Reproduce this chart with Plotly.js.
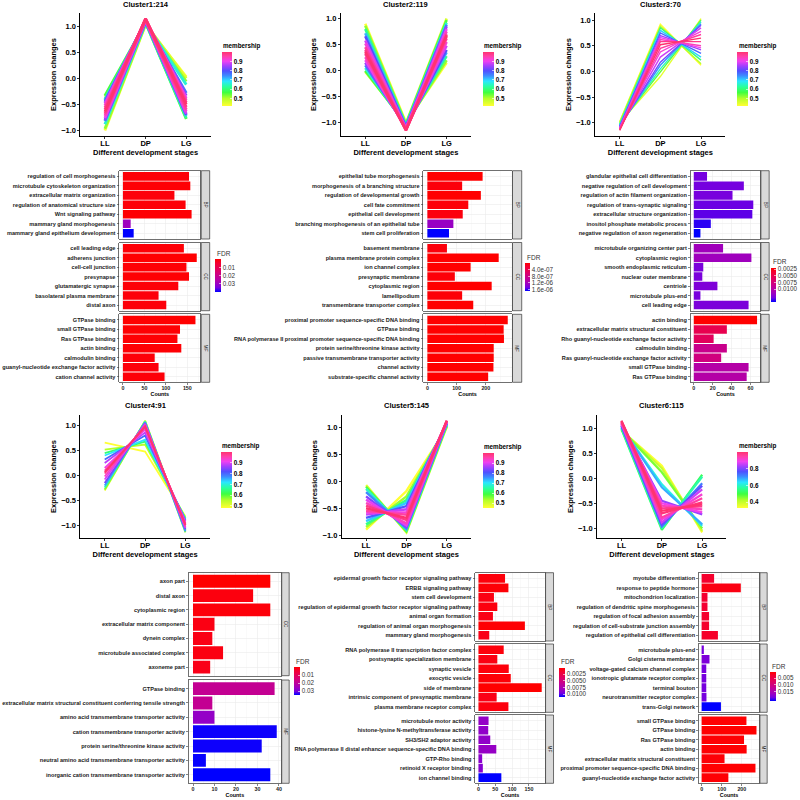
<!DOCTYPE html>
<html><head><meta charset="utf-8">
<script src="https://cdn.plot.ly/plotly-3.0.1.min.js"></script>
<style>html,body{margin:0;padding:0;background:#fff}#chart{width:800px;height:800px}</style>
</head><body><div id="chart"></div>
<script>
// ---------------- DATA ----------------
const stages = ['LL','DP','LG'];

// Cluster 1 (214 genes) - representative profiles
const c1_mem = [0.42,0.46,0.52,0.56,0.62,0.66,0.72,0.76,0.80,0.84,0.88,0.90,0.92,0.94,0.96,0.97,0.98,1.00];
const c1_LL  = [-1.00,-0.35,-0.97,-0.33,-0.40,-0.88,-0.42,-0.82,-0.45,-0.80,-0.48,-0.76,-0.52,-0.72,-0.56,-0.68,-0.60,-0.64];
const c1_DP  = [1.03,1.05,1.04,1.07,1.08,1.06,1.09,1.08,1.10,1.10,1.11,1.12,1.12,1.13,1.13,1.14,1.14,1.15];
const c1_LG  = [0.03,0.00,-0.06,-0.78,-0.76,-0.12,-0.72,-0.28,-0.70,-0.33,-0.68,-0.38,-0.64,-0.42,-0.60,-0.46,-0.55,-0.50];

// Cluster 2 (119 genes)
const c2_mem = [0.42,0.46,0.52,0.56,0.62,0.66,0.72,0.76,0.80,0.84,0.88,0.90,0.92,0.94,0.96,0.97,0.98,1.00];
const c2_LL  = [0.90,-0.02,0.86,0.00,0.80,0.05,0.72,0.10,0.66,0.15,0.58,0.20,0.52,0.26,0.45,0.32,0.40,0.36];
const c2_DP  = [-1.00,-1.01,-1.02,-1.03,-1.04,-1.05,-1.06,-1.07,-1.08,-1.09,-1.10,-1.11,-1.12,-1.12,-1.13,-1.14,-1.14,-1.15];
const c2_LG  = [0.15,1.00,0.20,0.97,0.28,0.92,0.35,0.88,0.40,0.85,0.48,0.80,0.55,0.75,0.62,0.70,0.66,0.68];

// Cluster 3 (70 genes)
const c3_mem = [0.42,0.45,0.50,0.55,0.60,0.65,0.70,0.74,0.78,0.82,0.85,0.88,0.90,0.92,0.94,0.96,0.98,1.00];
const c3_LL  = [-0.98,-1.00,-0.99,-1.02,-1.03,-1.04,-1.05,-1.06,-1.07,-1.08,-1.09,-1.10,-1.11,-1.12,-1.12,-1.13,-1.14,-1.15];
const c3_DP  = [0.92,-0.10,0.88,-0.02,0.85,0.05,0.80,0.12,0.75,0.18,0.70,0.28,0.66,0.38,0.62,0.45,0.58,0.52];
const c3_LG  = [0.12,1.03,0.15,1.00,0.22,0.97,0.28,0.93,0.35,0.90,0.42,0.85,0.46,0.78,0.50,0.72,0.58,0.65];

// Cluster 4 (91 genes)
const c4_mem = [0.48,0.50,0.55,0.58,0.64,0.68,0.72,0.76,0.80,0.84,0.88,0.90,0.92,0.94,0.96,0.98,1.00];
const c4_LL  = [0.66,-0.30,0.52,-0.28,0.45,-0.24,0.40,-0.20,0.32,-0.15,0.25,-0.08,0.15,-0.02,0.10,0.04,0.07];
const c4_DP  = [0.48,1.10,0.62,1.09,0.68,1.08,0.72,1.06,0.80,1.05,0.86,1.03,0.92,1.01,0.96,0.99,0.98];
const c4_LG  = [-0.82,-1.10,-0.85,-1.14,-0.86,-1.10,-0.88,-1.12,-0.90,-1.08,-0.92,-1.05,-0.95,-1.03,-0.97,-1.00,-0.99];

// Cluster 5 (145 genes)
const c5_mem = [0.45,0.48,0.54,0.58,0.63,0.67,0.72,0.76,0.80,0.84,0.88,0.90,0.92,0.94,0.96,0.98,1.00];
const c5_LL  = [-0.90,-0.07,-0.85,-0.10,-0.80,-0.14,-0.74,-0.20,-0.68,-0.28,-0.62,-0.34,-0.58,-0.40,-0.55,-0.45,-0.50];
const c5_DP  = [-0.18,-0.95,-0.28,-0.93,-0.35,-0.90,-0.40,-0.88,-0.46,-0.85,-0.52,-0.82,-0.58,-0.78,-0.62,-0.72,-0.68];
const c5_LG  = [1.00,1.02,1.02,1.04,1.04,1.06,1.06,1.08,1.08,1.09,1.10,1.11,1.11,1.12,1.12,1.13,1.13];

// Cluster 6 (115 genes)
const c6_mem = [0.33,0.40,0.46,0.52,0.58,0.62,0.68,0.72,0.78,0.82,0.86,0.89,0.91,0.93,0.95,0.97,0.99,1.00];
const c6_LL  = [0.95,0.96,0.97,0.98,1.00,1.01,1.02,1.04,1.05,1.07,1.08,1.09,1.10,1.11,1.12,1.13,1.14,1.15];
const c6_DP  = [0.25,0.20,0.12,-1.03,-1.00,-0.12,-0.18,-0.96,-0.92,-0.45,-0.88,-0.50,-0.82,-0.55,-0.78,-0.60,-0.70,-0.65];
const c6_LG  = [-1.08,-1.05,-1.00,0.07,0.03,-0.95,-0.92,-0.10,-0.15,-0.72,-0.22,-0.68,-0.32,-0.62,-0.40,-0.56,-0.48,-0.52];

// GO enrichment: Cluster 1
const c1_bp_terms = ['regulation of cell morphogenesis','microtubule cytoskeleton organization','extracellular matrix organization','regulation of anatomical structure size','Wnt signaling pathway','mammary gland morphogenesis','mammary gland epithelium development'];
const c1_bp_counts = [154,157,120,146,160,18,25];
const c1_bp_fdr = [0.0008,0.0006,0.0012,0.0009,0.0005,0.030,0.041];
const c1_cc_terms = ['cell leading edge','adherens junction','cell-cell junction','presynapse','glutamatergic synapse','basolateral plasma membrane','distal axon'];
const c1_cc_counts = [142,172,148,154,129,83,101];
const c1_cc_fdr = [0.0007,0.0002,0.0006,0.0005,0.0009,0.0012,0.0011];
const c1_mf_terms = ['GTPase binding','small GTPase binding','Ras GTPase binding','actin binding','calmodulin binding','guanyl-nucleotide exchange factor activity','cation channel activity'];
const c1_mf_counts = [169,133,127,136,74,83,97];
const c1_mf_fdr = [0.0001,0.0004,0.0005,0.0006,0.0010,0.0011,0.0009];

// Cluster 2
const c2_bp_terms = ['epithelial tube morphogenesis','morphogenesis of a branching structure','regulation of developmental growth','cell fate commitment','epithelial cell development','branching morphogenesis of an epithelial tube','stem cell proliferation'];
const c2_bp_counts = [189,119,183,140,121,89,74];
const c2_bp_fdr = [1e-9,5e-8,2e-9,4e-8,6e-8,1.3e-6,1.72e-6];
const c2_cc_terms = ['basement membrane','plasma membrane protein complex','ion channel complex','presynaptic membrane','cytoplasmic region','lamellipodium','transmembrane transporter complex'];
const c2_cc_counts = [67,244,148,94,220,119,157];
const c2_cc_fdr = [5e-8,1e-10,2e-9,4e-8,1e-10,3e-8,2e-9];
const c2_mf_terms = ['proximal promoter sequence-specific DNA binding','GTPase binding','RNA polymerase II proximal promoter sequence-specific DNA binding','protein serine/threonine kinase activity','passive transmembrane transporter activity','channel activity','substrate-specific channel activity'];
const c2_mf_counts = [275,261,262,227,227,226,208];
const c2_mf_fdr = [1e-12,1e-12,1e-12,1e-11,1e-11,1e-11,1e-11];

// Cluster 3
const c3_bp_terms = ['glandular epithelial cell differentiation','negative regulation of cell development','regulation of actin filament organization','regulation of trans-synaptic signaling','extracellular structure organization','inositol phosphate metabolic process','negative regulation of axon regeneration'];
const c3_bp_counts = [14,53,41,63,62,18,7];
const c3_bp_fdr = [0.0131,0.0131,0.0130,0.0133,0.0135,0.0142,0.0148];
const c3_cc_terms = ['microtubule organizing center part','cytoplasmic region','smooth endoplasmic reticulum','nuclear outer membrane','centriole','microtubule plus-end','cell leading edge'];
const c3_cc_counts = [31,61,10,9,25,7,58];
const c3_cc_fdr = [0.0112,0.0113,0.0129,0.0129,0.0127,0.0130,0.0128];
const c3_mf_terms = ['actin binding','extracellular matrix structural constituent','Rho guanyl-nucleotide exchange factor activity','calmodulin binding','Ras guanyl-nucleotide exchange factor activity','small GTPase binding','Ras GTPase binding'];
const c3_mf_counts = [67,35,21,35,29,58,56];
const c3_mf_fdr = [0.0019,0.0051,0.0058,0.0084,0.0077,0.0100,0.0100];

// Cluster 4
const c4_cc_terms = ['axon part','distal axon','cytoplasmic region','extracellular matrix component','dynein complex','microtubule associated complex','axoneme part'];
const c4_cc_counts = [36,28,36,10,9,14,8];
const c4_cc_fdr = [0.0003,0.0015,0.0012,0.0020,0.0022,0.0018,0.0024];
const c4_mf_terms = ['GTPase binding','extracellular matrix structural constituent conferring tensile strength','amino acid transmembrane transporter activity','cation transmembrane transporter activity','protein serine/threonine kinase activity','neutral amino acid transmembrane transporter activity','inorganic cation transmembrane transporter activity'];
const c4_mf_counts = [38,9,10,39,32,6,36];
const c4_mf_fdr = [0.019,0.019,0.027,0.0345,0.0345,0.0348,0.035];

// Cluster 5
const c5_bp_terms = ['epidermal growth factor receptor signaling pathway','ERBB signaling pathway','stem cell development','regulation of epidermal growth factor receptor signaling pathway','animal organ formation','regulation of animal organ morphogenesis','mammary gland morphogenesis'];
const c5_bp_counts = [79,89,46,56,43,138,32];
const c5_bp_fdr = [0.0004,0.0003,0.0006,0.0005,0.0007,0.0002,0.0008];
const c5_cc_terms = ['RNA polymerase II transcription factor complex','postsynaptic specialization membrane','synaptic vesicle','exocytic vesicle','side of membrane','intrinsic component of presynaptic membrane','plasma membrane receptor complex'];
const c5_cc_counts = [75,56,90,96,188,54,89];
const c5_cc_fdr = [0.0004,0.0006,0.0004,0.0003,0.0001,0.0007,0.0005];
const c5_mf_terms = ['microtubule motor activity','histone-lysine N-methyltransferase activity','SH3/SH2 adaptor activity','RNA polymerase II distal enhancer sequence-specific DNA binding','GTP-Rho binding','retinoid X receptor binding','ion channel binding'];
const c5_mf_counts = [30,29,35,53,11,13,68];
const c5_mf_fdr = [0.0085,0.0086,0.0086,0.0084,0.0088,0.0090,0.0110];

// Cluster 6
const c6_bp_terms = ['myotube differentiation','response to peptide hormone','mitochondrion localization','regulation of dendritic spine morphogenesis','regulation of focal adhesion assembly','regulation of cell-substrate junction assembly','regulation of epithelial cell differentiation'];
const c6_bp_counts = [62,195,29,29,37,37,81];
const c6_bp_fdr = [0.0030,0.0015,0.0032,0.0033,0.0030,0.0030,0.0028];
const c6_cc_terms = ['microtubule plus-end','Golgi cisterna membrane','voltage-gated calcium channel complex','ionotropic glutamate receptor complex','terminal bouton','neurotransmitter receptor complex','trans-Golgi network'];
const c6_cc_counts = [11,39,23,23,23,24,96];
const c6_cc_fdr = [0.0195,0.0190,0.0195,0.0195,0.0195,0.0195,0.0225];
const c6_mf_terms = ['small GTPase binding','GTPase binding','Ras GTPase binding','actin binding','extracellular matrix structural constituent','proximal promoter sequence-specific DNA binding','guanyl-nucleotide exchange factor activity'];
const c6_mf_counts = [223,273,211,224,114,268,133];
const c6_mf_fdr = [0.0006,0.0005,0.0007,0.0007,0.0009,0.0006,0.0008];

// ---------------- STYLE / HELPERS ----------------
const W = 800, H = 800;
const FONT = 'Liberation Sans, Arial, sans-serif';
const memScale = [[0,'#FFFF33'],[0.14,'#B4FF2A'],[0.25,'#40FF40'],[0.36,'#2AFFA0'],[0.46,'#2AE6FF'],[0.56,'#3C8CFF'],[0.65,'#5050FF'],[0.74,'#A040FF'],[0.83,'#F040F0'],[0.92,'#FF40A8'],[1,'#FF3370']];
// colour value is -FDR so that small FDR (red) sits at the top of the bar
const fdrScale = [[0,'#0000FF'],[0.125,'#7300E1'],[0.25,'#9A00C2'],[0.375,'#B500A5'],[0.5,'#C9008A'],[0.625,'#DA006C'],[0.75,'#E8004F'],[0.875,'#F40031'],[1,'#FF0000']];

function hex2rgb(h){return [parseInt(h.substr(1,2),16),parseInt(h.substr(3,2),16),parseInt(h.substr(5,2),16)];}
function scaleColor(scale,t){
  t=Math.max(0,Math.min(1,t));
  for(let i=1;i<scale.length;i++){
    if(t<=scale[i][0]){
      const a=scale[i-1],b=scale[i],f=(t-a[0])/(b[0]-a[0]);
      const ca=hex2rgb(a[1]),cb=hex2rgb(b[1]);
      return 'rgb('+ca.map((v,k)=>Math.round(v+(cb[k]-v)*f)).join(',')+')';
    }
  }
  return scale[scale.length-1][1];
}

const traces = [];
const layout = {
  width:W,height:H,margin:{l:0,r:0,t:0,b:0},paper_bgcolor:'white',plot_bgcolor:'white',
  showlegend:false,bargap:0.1,font:{family:FONT,color:'#000'},annotations:[],shapes:[]
};
let axN = 0;
function newAxes(){axN++;const s=axN===1?'':String(axN);return {xa:'xaxis'+s,ya:'yaxis'+s,xr:'x'+s,yr:'y'+s};}
let caN = 0;
function newCA(){caN++;return caN===1?'coloraxis':'coloraxis'+caN;}

function colorbar(box,tickvals,ticktext,font){
  return {x:box[0]/W,xanchor:'left',xpad:0,y:1-box[2]/H,yanchor:'top',ypad:0,
    len:box[3]-box[2],lenmode:'pixels',thickness:box[1]-box[0],thicknessmode:'pixels',
    outlinewidth:0,tickvals:tickvals,ticktext:ticktext,tickfont:font,
    ticks:'inside',ticklen:2,tickcolor:'white',tickwidth:0.6,tickmode:'array'};
}
function note(text,x,y,opt){
  layout.annotations.push(Object.assign({text:text,x:x/W,y:1-y/H,xref:'paper',yref:'paper',showarrow:false,
    xanchor:'center',yanchor:'middle',font:{family:FONT,size:7.5,color:'#000',weight:'bold'}},opt||{}));
}

function addLineChart(c){
  const a=newAxes(), ca=newCA();
  const all=[...c.LL,...c.DP,...c.LG];
  const lo=Math.min(...all),hi=Math.max(...all),pad=(hi-lo)*0.05;
  const mlo=Math.min(...c.mem),mhi=Math.max(...c.mem);
  const order=c.mem.map((m,i)=>i).sort((i,j)=>c.mem[i]-c.mem[j]);
  order.forEach(i=>{
    traces.push({type:'scatter',mode:'lines',x:stages,y:[c.LL[i],c.DP[i],c.LG[i]],xaxis:a.xr,yaxis:a.yr,
      line:{color:scaleColor(memScale,(c.mem[i]-mlo)/(mhi-mlo)),width:c.lw},hoverinfo:'skip'});
  });
  traces.push({type:'scatter',mode:'markers',x:c.mem.map(()=>'DP'),y:c.DP,xaxis:a.xr,yaxis:a.yr,
    marker:{color:c.mem,coloraxis:ca,opacity:0,size:1},hoverinfo:'skip'});
  layout[ca]={colorscale:memScale,cmin:mlo,cmax:mhi,
    colorbar:colorbar(c.cb,c.cbTicks,c.cbTicks.map(v=>v.toFixed(1)),{family:FONT,size:6.3,weight:'bold',color:'#000'})};
  note('membership',c.cb[0]-0.5,c.cb[2]-6,{xanchor:'left',font:{family:FONT,size:6.3,weight:'bold',color:'#000'}});
  const b=c.box;
  layout[a.xa]={domain:[b[0]/W,b[1]/W],anchor:a.yr,type:'category',categoryorder:'array',categoryarray:stages,
    range:[-0.6,2.6],showline:true,linecolor:'#000',linewidth:1,ticks:'outside',ticklen:2,tickcolor:'#000',tickwidth:0.8,
    ticklabelstandoff:-2,
    showgrid:false,zeroline:false,tickfont:{family:FONT,size:7.5,weight:'bold',color:'#000'},
    title:{text:'Different development stages',font:{family:FONT,size:7.5,weight:'bold',color:'#000'},standoff:1}};
  layout[a.ya]={domain:[1-b[3]/H,1-b[2]/H],anchor:a.xr,range:[lo-pad,hi+pad],dtick:0.5,tick0:0,tickformat:'.1f',
    showline:true,linecolor:'#000',linewidth:1,ticks:'outside',ticklen:2,tickcolor:'#000',tickwidth:0.8,
    showgrid:false,zeroline:false,tickfont:{family:FONT,size:7.5,weight:'bold',color:'#000'},
    title:{text:'Expression changes',font:{family:FONT,size:7.5,weight:'bold',color:'#000'},standoff:3}};
  note(c.title,(b[0]+b[1])/2,c.titleY);
}

function addBarCluster(c){
  const ca=newCA();
  const maxC=Math.max(...c.facets.map(f=>Math.max(...f.counts)));
  const xr=[-0.05*maxC,1.05*maxC];
  c.facets.forEach((f,k)=>{
    const a=newAxes(), bottom=(k===c.facets.length-1);
    traces.push({type:'bar',orientation:'h',x:f.counts,y:f.terms,xaxis:a.xr,yaxis:a.yr,
      marker:{color:f.fdr.map(v=>-v),coloraxis:ca,line:{width:0}},hoverinfo:'skip'});
    layout[a.xa]={domain:[c.x[0]/W,c.x[1]/W],anchor:a.yr,range:xr,dtick:c.dtick,tick0:0,
      showgrid:true,gridcolor:'#EBEBEB',gridwidth:0.6,minor:{dtick:c.dtick/2,showgrid:true,gridcolor:'#F3F3F3',gridwidth:0.4},
      zeroline:false,showline:true,mirror:true,linecolor:'#333',linewidth:0.7,
      ticks:bottom?'outside':'',ticklen:2,tickcolor:'#333',tickwidth:0.6,showticklabels:bottom,ticklabelstandoff:-1,
      tickfont:{family:FONT,size:5.3,weight:'bold',color:'#1A1A1A'},
      title:bottom?{text:'Counts',font:{family:FONT,size:5.4,weight:'bold',color:'#000'},standoff:0}:{text:''}};
    layout[a.ya]={domain:[1-f.y[1]/H,1-f.y[0]/H],anchor:a.xr,type:'category',categoryorder:'array',categoryarray:f.terms,
      range:[f.terms.length-0.4,-0.6],showgrid:true,gridcolor:'#EBEBEB',gridwidth:0.6,zeroline:false,
      showline:true,mirror:true,linecolor:'#333',linewidth:0.7,ticks:'outside',ticklen:2,tickcolor:'#333',tickwidth:0.6,
      tickfont:{family:FONT,size:5.6,weight:'bold',color:'#1A1A1A'}};
    layout.shapes.push({type:'rect',xref:'paper',yref:'paper',x0:c.strip[0]/W,x1:c.strip[1]/W,y0:1-f.y[1]/H,y1:1-f.y[0]/H,
      fillcolor:'#D9D9D9',line:{color:'#333',width:0.7},layer:'above'});
    note(f.label,(c.strip[0]+c.strip[1])/2,(f.y[0]+f.y[1])/2,{textangle:90,font:{family:FONT,size:4.6,color:'#1A1A1A'}});
  });
  layout[ca]={colorscale:fdrScale,
    colorbar:colorbar(c.cb,c.cbTicks.map(v=>-v),c.cbText,{family:FONT,size:6.3,color:'#333'})};
  note('FDR',c.cb[0]-0.5,c.cb[2]-6,{xanchor:'left',font:{family:FONT,size:6.5,color:'#333'}});
}

// ---------------- BUILD ----------------
addLineChart({title:'Cluster1:214',LL:c1_LL,DP:c1_DP,LG:c1_LG,mem:c1_mem,lw:2.8,box:[81,212,13,136],titleY:5,cb:[223,233,52,106],cbTicks:[0.5,0.6,0.7,0.8,0.9]});
addLineChart({title:'Cluster2:119',LL:c2_LL,DP:c2_DP,LG:c2_LG,mem:c2_mem,lw:2.6,box:[343,474,13,136],titleY:5,cb:[486,497,52,106],cbTicks:[0.5,0.6,0.7,0.8,0.9]});
addLineChart({title:'Cluster3:70',LL:c3_LL,DP:c3_DP,LG:c3_LG,mem:c3_mem,lw:1.4,box:[599,730,13,136],titleY:5,cb:[742,753,52,106],cbTicks:[0.5,0.6,0.7,0.8,0.9]});
addLineChart({title:'Cluster4:91',LL:c4_LL,DP:c4_DP,LG:c4_LG,mem:c4_mem,lw:1.8,box:[81,211,415,538],titleY:406,cb:[222,233,452,508],cbTicks:[0.5,0.6,0.7,0.8,0.9]});
addLineChart({title:'Cluster5:145',LL:c5_LL,DP:c5_DP,LG:c5_LG,mem:c5_mem,lw:2.4,box:[344,474,415,538],titleY:406,cb:[486,497,453,508],cbTicks:[0.5,0.6,0.7,0.8,0.9]});
addLineChart({title:'Cluster6:115',LL:c6_LL,DP:c6_DP,LG:c6_LG,mem:c6_mem,lw:2.2,box:[601,731,415,538],titleY:406,cb:[742,753,452,508],cbTicks:[0.4,0.6,0.8]});

const rowTop = {BP:[170.7,239],CC:[242.5,310.7],MF:[314.3,382.3]};
const rowBot = {BP:[572.7,641],CC:[644,712.3],MF:[715,783.3]};

addBarCluster({x:[120,201.7],strip:[202.5,211],dtick:50,cb:[216.7,222.5,259.3,292.7],cbTicks:[0.01,0.02,0.03],cbText:['0.01','0.02','0.03'],
  facets:[{label:'BP',terms:c1_bp_terms,counts:c1_bp_counts,fdr:c1_bp_fdr,y:rowTop.BP},
          {label:'CC',terms:c1_cc_terms,counts:c1_cc_counts,fdr:c1_cc_fdr,y:rowTop.CC},
          {label:'MF',terms:c1_mf_terms,counts:c1_mf_counts,fdr:c1_mf_fdr,y:rowTop.MF}]});
addBarCluster({x:[426,515],strip:[515.7,525],dtick:100,cb:[528.3,533.5,263.3,291.7],cbTicks:[4e-7,8e-7,1.2e-6,1.6e-6],cbText:['4.0e-07','8.0e-07','1.2e-06','1.6e-06'],
  facets:[{label:'BP',terms:c2_bp_terms,counts:c2_bp_counts,fdr:c2_bp_fdr,y:rowTop.BP},
          {label:'CC',terms:c2_cc_terms,counts:c2_cc_counts,fdr:c2_cc_fdr,y:rowTop.CC},
          {label:'MF',terms:c2_mf_terms,counts:c2_mf_counts,fdr:c2_mf_fdr,y:rowTop.MF}]});
addBarCluster({x:[695,765],strip:[765.7,774],dtick:20,cb:[776,781,267.7,301.7],cbTicks:[0.0025,0.005,0.0075,0.01],cbText:['0.0025','0.0050','0.0075','0.0100'],
  facets:[{label:'BP',terms:c3_bp_terms,counts:c3_bp_counts,fdr:c3_bp_fdr,y:rowTop.BP},
          {label:'CC',terms:c3_cc_terms,counts:c3_cc_counts,fdr:c3_cc_fdr,y:rowTop.CC},
          {label:'MF',terms:c3_mf_terms,counts:c3_mf_counts,fdr:c3_mf_fdr,y:rowTop.MF}]});
addBarCluster({x:[190,282.7],strip:[283.5,291],dtick:10,cb:[296,301.7,667.3,695.7],cbTicks:[0.01,0.02,0.03],cbText:['0.01','0.02','0.03'],
  facets:[{label:'CC',terms:c4_cc_terms,counts:c4_cc_counts,fdr:c4_cc_fdr,y:[572.7,675.7]},
          {label:'MF',terms:c4_mf_terms,counts:c4_mf_counts,fdr:c4_mf_fdr,y:[680,783.3]}]});
addBarCluster({x:[478.3,548.3],strip:[549,557],dtick:50,cb:[562.7,569,667.7,696.7],cbTicks:[0.0025,0.005,0.0075,0.01],cbText:['0.0025','0.0050','0.0075','0.0100'],
  facets:[{label:'BP',terms:c5_bp_terms,counts:c5_bp_counts,fdr:c5_bp_fdr,y:rowBot.BP},
          {label:'CC',terms:c5_cc_terms,counts:c5_cc_counts,fdr:c5_cc_fdr,y:rowBot.CC},
          {label:'MF',terms:c5_mf_terms,counts:c5_mf_counts,fdr:c5_mf_fdr,y:rowBot.MF}]});
addBarCluster({x:[703.3,764],strip:[764.7,772],dtick:100,cb:[775,780.7,672.3,701.7],cbTicks:[0.005,0.01,0.015],cbText:['0.005','0.010','0.015'],
  facets:[{label:'BP',terms:c6_bp_terms,counts:c6_bp_counts,fdr:c6_bp_fdr,y:rowBot.BP},
          {label:'CC',terms:c6_cc_terms,counts:c6_cc_counts,fdr:c6_cc_fdr,y:rowBot.CC},
          {label:'MF',terms:c6_mf_terms,counts:c6_mf_counts,fdr:c6_mf_fdr,y:rowBot.MF}]});

Plotly.newPlot('chart',traces,layout,{staticPlot:true,displayModeBar:false});
</script></body></html>
